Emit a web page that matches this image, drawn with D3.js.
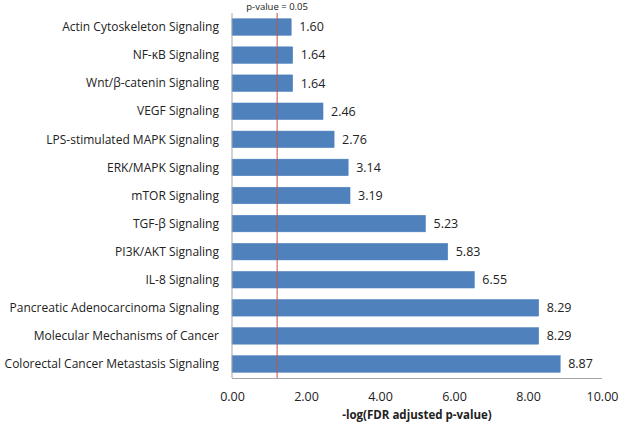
<!DOCTYPE html>
<html><head><meta charset="utf-8">
<script src="https://cdn.jsdelivr.net/npm/d3@7"></script>
<style>body{margin:0;background:#fff}svg{display:block}text{font-family:"Open Sans",sans-serif}</style>
</head><body><svg id="c" width="620" height="426"></svg>
<script>
const categories = ["Actin Cytoskeleton Signaling","NF-κB Signaling","Wnt/β-catenin Signaling","VEGF Signaling","LPS-stimulated MAPK Signaling","ERK/MAPK Signaling","mTOR Signaling","TGF-β Signaling","PI3K/AKT Signaling","IL-8 Signaling","Pancreatic Adenocarcinoma Signaling","Molecular Mechanisms of Cancer","Colorectal Cancer Metastasis Signaling"];
const values = [1.60,1.64,1.64,2.46,2.76,3.14,3.19,5.23,5.83,6.55,8.29,8.29,8.87];
const xTicks = [0,2,4,6,8,10];
const threshold = 1.22;
const thresholdLabel = "p-value = 0.05";
const xTitle = "-log(FDR adjusted p-value)";

const svg = d3.select("#c");
const m = {l:232, r:18, t:13, b:48};
const W = 620, H = 426;
const x = d3.scaleLinear().domain([0,10]).range([m.l, W-m.r]);
const y = d3.scaleBand().domain(categories).range([m.t, H-m.b]).paddingInner(0.41).paddingOuter(0.205);

svg.selectAll("rect.bar").data(values).enter().append("rect")
  .attr("x", x(0)).attr("y",(d,i)=>y(categories[i]))
  .attr("width", d=>x(d)-x(0)).attr("height", y.bandwidth())
  .attr("fill","#4f81bd").attr("stroke","#4a7ebb").attr("stroke-width",0.5);

svg.selectAll("text.val").data(values).enter().append("text")
  .attr("x", d=>x(d)+8).attr("y",(d,i)=>y(categories[i])+y.bandwidth()/2)
  .attr("dy","0.35em").attr("font-size",12.5).attr("fill","#222").text(d=>d.toFixed(2));

svg.selectAll("text.cat").data(categories).enter().append("text")
  .attr("x", 219).attr("y", d=>y(d)+y.bandwidth()/2).attr("dy","0.35em")
  .attr("text-anchor","end").attr("font-size",12).attr("fill","#222").text(d=>d);

svg.append("line").attr("x1",x(0)).attr("x2",x(0)).attr("y1",m.t).attr("y2",H-m.b).attr("stroke","#a6a6a6");
svg.append("line").attr("x1",x(0)).attr("x2",W-m.r).attr("y1",H-m.b+0.5).attr("y2",H-m.b+0.5).attr("stroke","#a6a6a6");

const ax = svg.append("g").attr("transform",`translate(0,${H-m.b})`)
  .call(d3.axisBottom(x).tickValues(xTicks).tickFormat(d3.format(".2f")).tickSize(0).tickPadding(14));
ax.select(".domain").remove();
ax.selectAll("text").attr("font-size",12.5).attr("fill","#222").style("font-family","'Open Sans',sans-serif");

svg.append("line").attr("x1",x(threshold)).attr("x2",x(threshold)).attr("y1",m.t).attr("y2",H-m.b).attr("stroke","#c0504d").attr("stroke-width",1);
svg.append("text").attr("x",x(threshold)).attr("y",10).attr("text-anchor","middle").attr("font-size",9.5).attr("fill","#222").text(thresholdLabel);

svg.append("text").attr("x",(x(0)+x(10))/2).attr("y",419).attr("text-anchor","middle").attr("font-size",11.5).attr("font-weight","bold").attr("fill","#222").text(xTitle);
</script></body></html>
